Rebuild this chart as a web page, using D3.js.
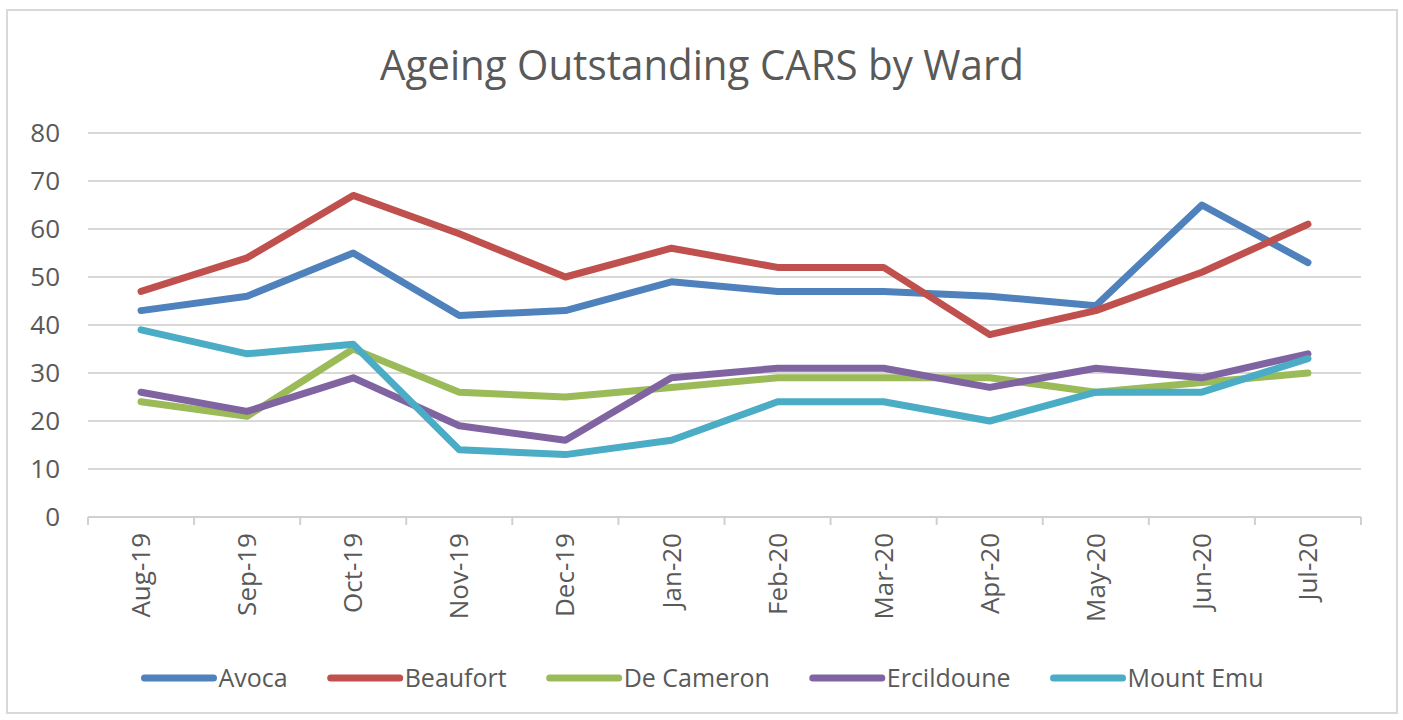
<!DOCTYPE html>
<meta charset="utf-8">
<style>
body { margin: 0; background: #fff; }
text { font-family: "Open Sans", sans-serif; fill: #595959; }
.grid line { stroke: #d9d9d9; stroke-width: 2px; }
.series path { fill: none; stroke-width: 7px; stroke-linecap: round; stroke-linejoin: round; }
</style>
<svg width="1403" height="720"></svg>
<script src="https://d3js.org/d3.v7.min.js"></script>
<script>
// categories and series values
var months = ["Aug-19", "Sep-19", "Oct-19", "Nov-19", "Dec-19", "Jan-20",
              "Feb-20", "Mar-20", "Apr-20", "May-20", "Jun-20", "Jul-20"];
var avoca      = [43, 46, 55, 42, 43, 49, 47, 47, 46, 44, 65, 53];
var beaufort   = [47, 54, 67, 59, 50, 56, 52, 52, 38, 43, 51, 61];
var deCameron  = [24, 21, 35, 26, 25, 27, 29, 29, 29, 26, 28, 30];
var ercildoune = [26, 22, 29, 19, 16, 29, 31, 31, 27, 31, 29, 34];
var mountEmu   = [39, 34, 36, 14, 13, 16, 24, 24, 20, 26, 26, 33];
var yTicks = [0, 10, 20, 30, 40, 50, 60, 70, 80];

var series = [
  {name: "Avoca", values: avoca, color: "#4f81bd"},
  {name: "Beaufort", values: beaufort, color: "#c0504d"},
  {name: "De Cameron", values: deCameron, color: "#9bbb59"},
  {name: "Ercildoune", values: ercildoune, color: "#8064a2"},
  {name: "Mount Emu", values: mountEmu, color: "#4bacc6"}
];

var svg = d3.select("svg");

// outer frame
svg.append("rect")
    .attr("x", 7).attr("y", 10)
    .attr("width", 1390).attr("height", 703)
    .attr("fill", "#fff")
    .attr("stroke", "#d9d9d9")
    .attr("stroke-width", 2);

var x = d3.scaleBand().domain(months).range([88, 1361]);
var y = d3.scaleLinear().domain([0, 80]).range([517, 133]);

// title
svg.append("text")
    .attr("x", 702).attr("y", 80)
    .attr("text-anchor", "middle")
    .attr("font-size", 42)
    .attr("textLength", 644)
    .attr("lengthAdjust", "spacingAndGlyphs")
    .text("Ageing Outstanding CARS by Ward");

// gridlines
svg.append("g").attr("class", "grid")
  .selectAll("line")
  .data(yTicks.filter(function(d) { return d > 0; }))
  .enter().append("line")
    .attr("x1", 88).attr("x2", 1361)
    .attr("y1", function(d) { return y(d); })
    .attr("y2", function(d) { return y(d); });

// y axis labels
var yAxis = svg.append("g")
    .attr("transform", "translate(88,0)")
    .call(d3.axisLeft(y).tickValues(yTicks).tickSize(0).tickPadding(28));
yAxis.select(".domain").remove();
yAxis.selectAll("text").attr("font-size", 26).attr("font-family", null).attr("fill", null);

// x axis line with ticks at category boundaries
var xAxis = svg.append("g").attr("transform", "translate(0,517)");
xAxis.append("line")
    .attr("x1", 88).attr("x2", 1361)
    .attr("stroke", "#d0d0d0").attr("stroke-width", 2);
xAxis.selectAll(".tk")
  .data(months.concat(["end"]))
  .enter().append("line")
    .attr("x1", function(d, i) { return 88 + i * x.step(); })
    .attr("x2", function(d, i) { return 88 + i * x.step(); })
    .attr("y1", 0).attr("y2", 8)
    .attr("stroke", "#d0d0d0").attr("stroke-width", 2);
xAxis.selectAll(".lbl")
  .data(months)
  .enter().append("text")
    .attr("transform", function(d) {
      return "translate(" + (x(d) + x.bandwidth() / 2) + ",16) rotate(-90)";
    })
    .attr("text-anchor", "end")
    .attr("dy", "0.35em")
    .attr("font-size", 26)
    .text(function(d) { return d; });

// lines
var line = d3.line()
    .x(function(d, i) { return x(months[i]) + x.bandwidth() / 2; })
    .y(function(d) { return y(d); });

svg.append("g").attr("class", "series")
  .selectAll("path")
  .data(series)
  .enter().append("path")
    .attr("stroke", function(d) { return d.color; })
    .attr("d", function(d) { return line(d.values); });

// legend
var legend = svg.append("g").attr("class", "legend");
var items = legend.selectAll("g")
  .data(series)
  .enter().append("g");
items.append("line")
    .attr("x1", 0).attr("x2", 69)
    .attr("y1", 0).attr("y2", 0)
    .attr("stroke", function(d) { return d.color; })
    .attr("stroke-width", 7)
    .attr("stroke-linecap", "round");
items.append("text")
    .attr("x", 74).attr("dy", "0.35em")
    .attr("font-size", 25)
    .text(function(d) { return d.name; });

var gap = 43, pos = 0, offsets = [];
items.each(function() {
  offsets.push(pos);
  pos += 74 + d3.select(this).select("text").node().getComputedTextLength() + gap;
});
var total = pos - gap;
var start = 704 - total / 2;
items.attr("transform", function(d, i) { return "translate(" + (start + offsets[i]) + ",678)"; });
</script>
